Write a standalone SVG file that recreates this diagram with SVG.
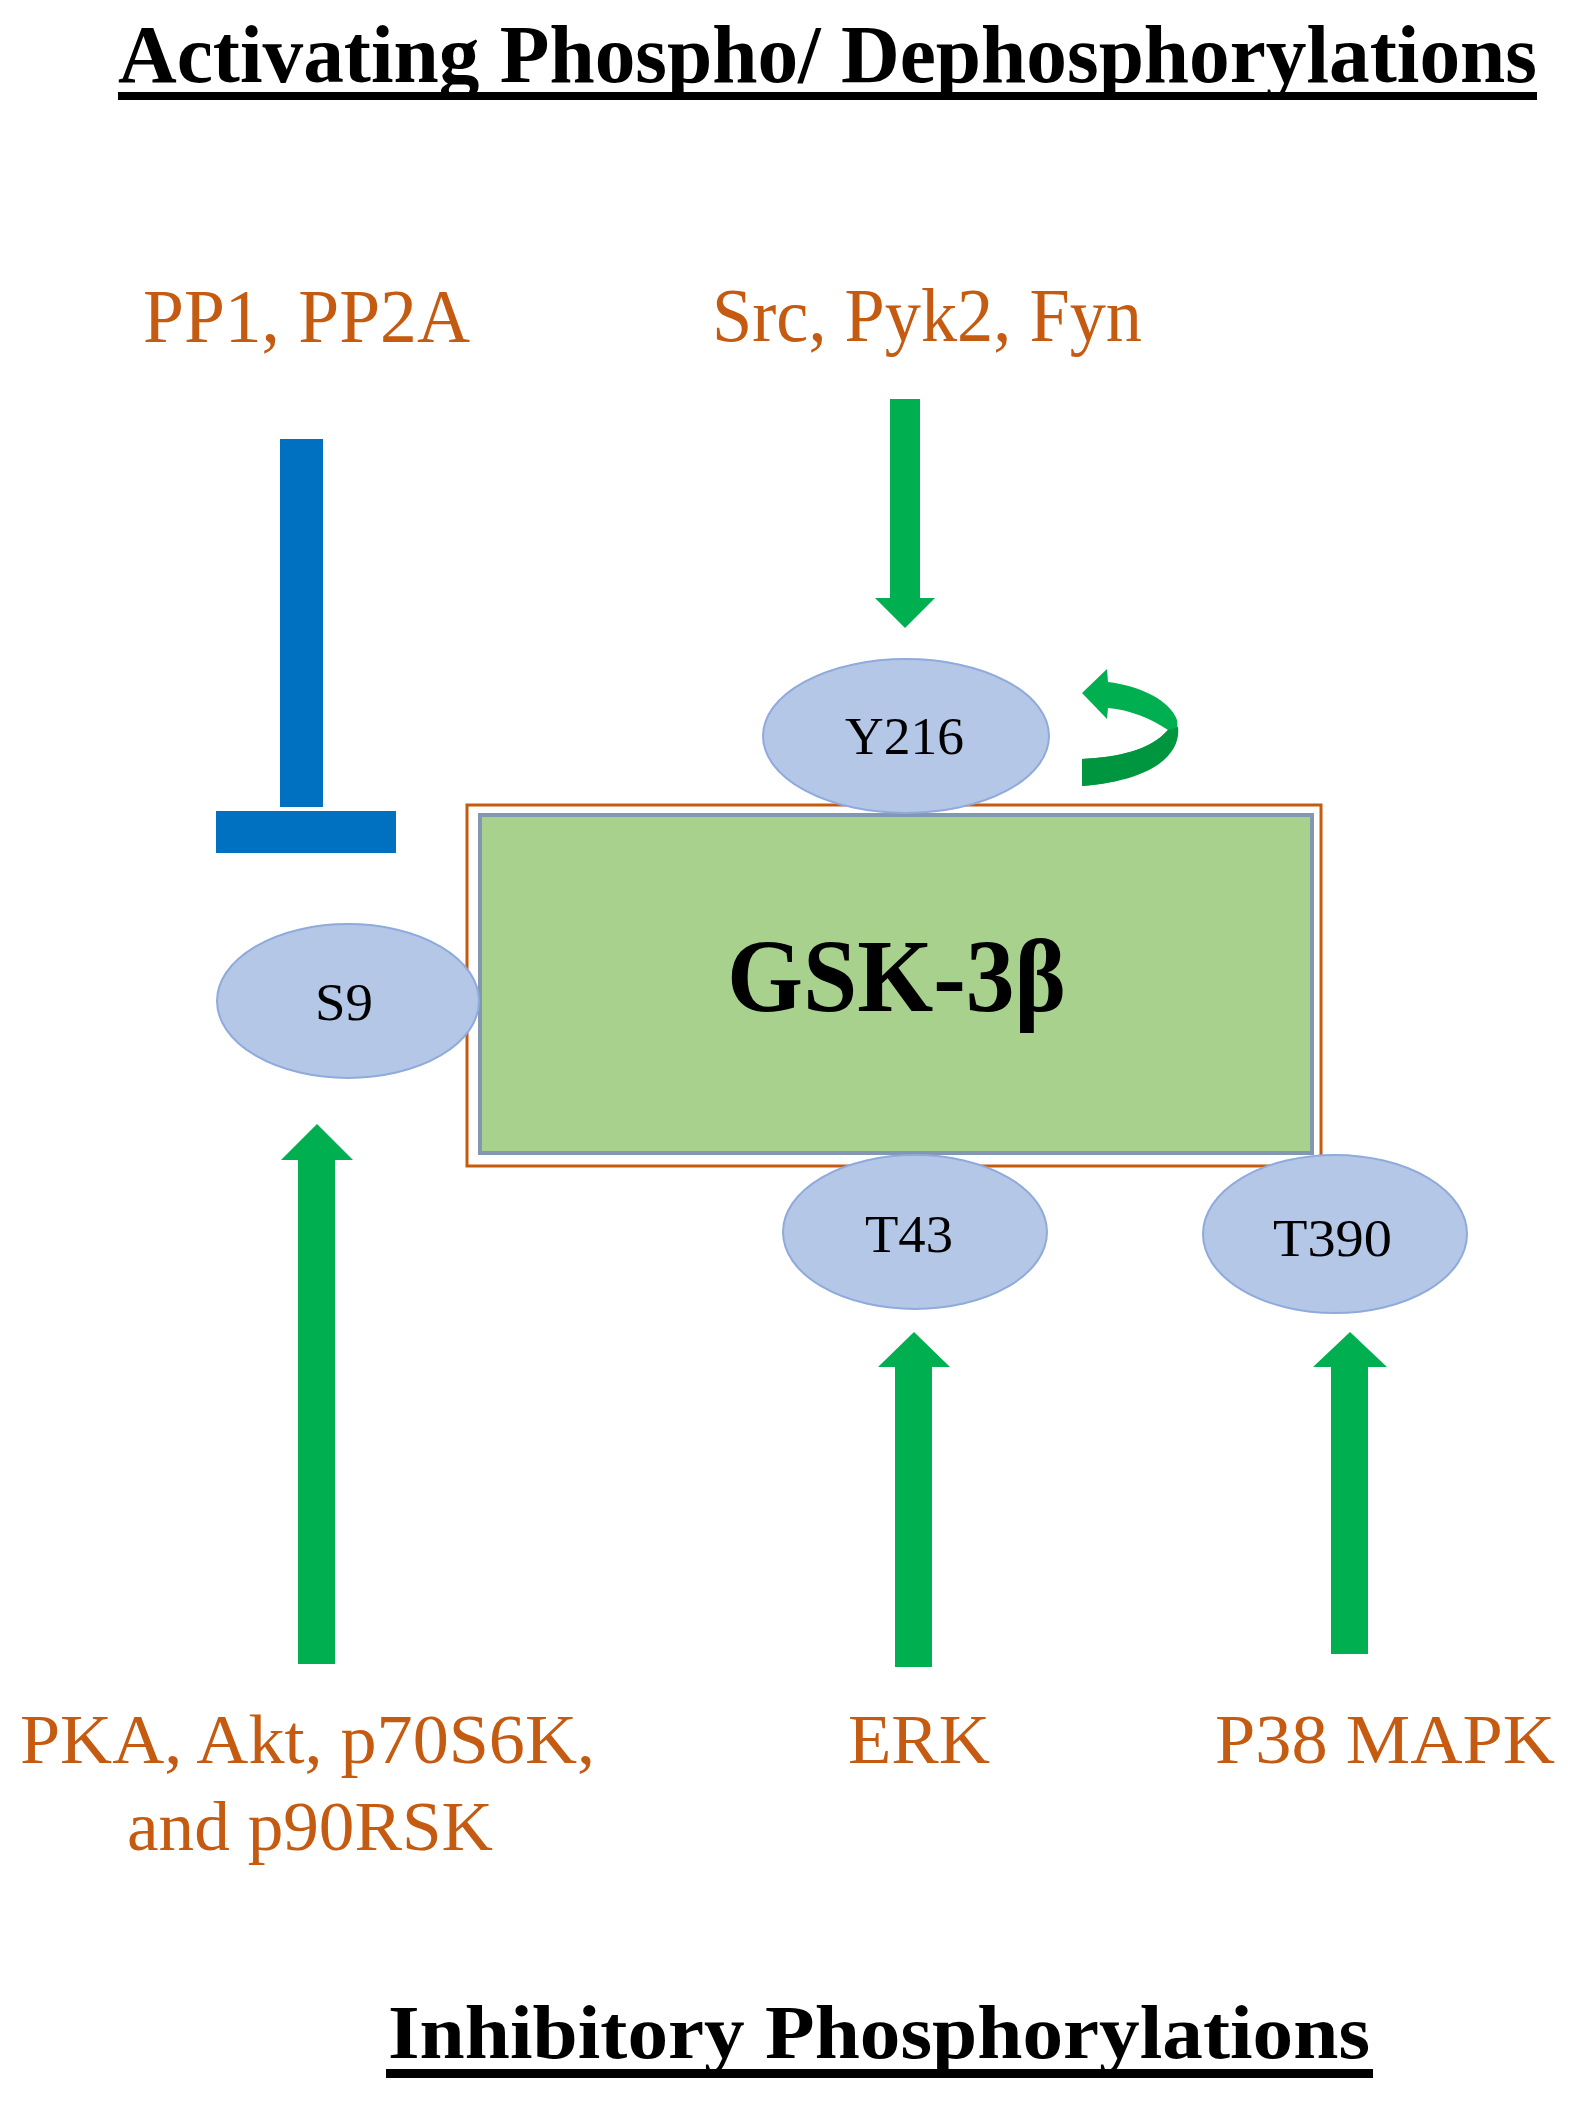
<svg xmlns="http://www.w3.org/2000/svg" width="1572" height="2110" viewBox="0 0 1572 2110">
<style>
.title{font-family:"Liberation Serif","Times New Roman",serif;font-weight:bold;fill:#000}
.lbl{font-family:"Liberation Serif","Times New Roman",serif;fill:#C55A11}
.site{fill:#B4C7E7;stroke:#8FAADC;stroke-width:2}
.sitetxt{font-family:"Liberation Serif","Times New Roman",serif;fill:#000;font-size:52px}
.arrow{fill:#00B050}
.inhib{fill:#0070C0}
</style>
<rect width="1572" height="2110" fill="#fff"/>
<g id="title-top">
<text class="title" x="118" y="82" font-size="82" textLength="1419" lengthAdjust="spacingAndGlyphs">Activating Phospho/ Dephosphorylations</text>
<rect x="118" y="92" width="1419" height="8" fill="#000"/>
</g>
<g id="label-pp1">
<text class="lbl" x="143" y="342" font-size="76" textLength="327" lengthAdjust="spacingAndGlyphs">PP1, PP2A</text>
</g>
<g id="label-src">
<text class="lbl" x="712" y="341" font-size="76" textLength="430" lengthAdjust="spacingAndGlyphs">Src, Pyk2, Fyn</text>
</g>
<g id="connectors">
<rect class="inhib" x="280" y="439" width="43" height="368"/>
<rect class="inhib" x="216" y="811" width="180" height="42"/>
<polygon class="arrow" points="890,399 920,399 920,598 935,598 905,628 875,598 890,598"/>
<polygon class="arrow" points="298,1664 335,1664 335,1160 353,1160 317,1124 281,1160 298,1160"/>
<polygon class="arrow" points="895,1667 932,1667 932,1367 950,1367 914,1332 878,1367 895,1367"/>
<polygon class="arrow" points="1331,1654 1368,1654 1368,1367 1387,1367 1350,1332 1313,1367 1331,1367"/>
<path fill="#00B050" d="M1082,759 C1120,757 1150,750 1168,730 C1150,718 1130,710 1108,708 L1107,719 L1082,693 L1107,669 L1108,682 C1140,686 1170,700 1177,720 C1181,745 1160,780 1082,786 Z"/>
<path fill="#00953F" d="M1082,759 C1120,757 1150,750 1168,730 L1178,727 C1181,750 1160,780 1082,786 Z"/>
</g>
<g id="gsk3b">
<rect x="467" y="805" width="854" height="361" fill="#fff" stroke="#C55A11" stroke-width="3"/>
<rect x="480" y="815" width="832" height="338" fill="#A9D18E" stroke="#8497B0" stroke-width="4"/>
<text class="title" x="727" y="1011" font-size="103" textLength="339" lengthAdjust="spacingAndGlyphs">GSK-3β</text>
</g>
<g id="site-y216">
<ellipse class="site" cx="906" cy="736" rx="143" ry="77"/>
<text class="sitetxt" x="845" y="754" textLength="119" lengthAdjust="spacingAndGlyphs">Y216</text>
</g>
<g id="site-s9">
<ellipse class="site" cx="348" cy="1001" rx="131" ry="77"/>
<text class="sitetxt" x="315" y="1020" textLength="58" lengthAdjust="spacingAndGlyphs">S9</text>
</g>
<g id="site-t43">
<ellipse class="site" cx="915" cy="1232" rx="132" ry="77"/>
<text class="sitetxt" x="865" y="1252" textLength="88" lengthAdjust="spacingAndGlyphs">T43</text>
</g>
<g id="site-t390">
<ellipse class="site" cx="1335" cy="1234" rx="132" ry="79"/>
<text class="sitetxt" x="1273" y="1256" textLength="119" lengthAdjust="spacingAndGlyphs">T390</text>
</g>
<g id="label-pka">
<text class="lbl" x="20" y="1763" font-size="70" textLength="575" lengthAdjust="spacingAndGlyphs">PKA, Akt, p70S6K,</text>
<text class="lbl" x="127" y="1850" font-size="70" textLength="366" lengthAdjust="spacingAndGlyphs">and p90RSK</text>
</g>
<g id="label-erk">
<text class="lbl" x="848" y="1763" font-size="70" textLength="142" lengthAdjust="spacingAndGlyphs">ERK</text>
</g>
<g id="label-p38">
<text class="lbl" x="1215" y="1763" font-size="70" textLength="340" lengthAdjust="spacingAndGlyphs">P38 MAPK</text>
</g>
<g id="title-bottom">
<text class="title" x="388" y="2058" font-size="77" textLength="982" lengthAdjust="spacingAndGlyphs">Inhibitory Phosphorylations</text>
<rect x="386" y="2069" width="987" height="9" fill="#000"/>
</g>
</svg>
